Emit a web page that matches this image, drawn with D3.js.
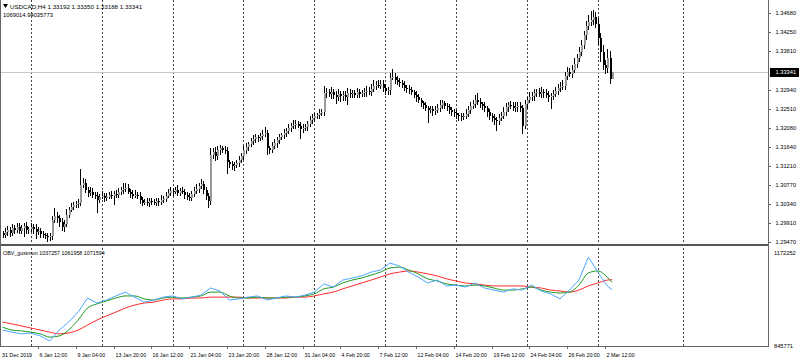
<!DOCTYPE html>
<html>
<head>
<meta charset="utf-8">
<script src="https://cdn.jsdelivr.net/npm/d3@7"></script>
<style>
  body { margin: 0; background: #fff; }
  svg { display: block; font-family: "Liberation Sans", Arial, sans-serif; }
</style>
</head>
<body>
<svg id="chart" width="800" height="363"></svg>
<script>
// USDCAD H4 closes
var closes = [
  1.2964,1.2971,1.2975,1.2968, 1.2980,1.2975,1.2982,1.2973, 1.2980,1.2984,1.2975,1.2977, 1.2982,1.2977,1.2971,1.2973, 1.2966,1.2964,1.2962,1.2959,
  1.2962,1.2998,1.3007,1.3003, 1.2993,1.2982,1.2989,1.3010, 1.3021,1.3028,1.3032,1.3035, 1.3037,1.3078,1.3082,1.3066, 1.3060,1.3062,1.3055,1.3053,
  1.3044,1.3051,1.3053,1.3048, 1.3051,1.3055,1.3053,1.3057, 1.3055,1.3062,1.3066,1.3069, 1.3071,1.3062,1.3057,1.3053, 1.3055,1.3053,1.3044,1.3037,
  1.3039,1.3037,1.3041,1.3039, 1.3037,1.3041,1.3039,1.3044, 1.3046,1.3053,1.3060,1.3064, 1.3062,1.3066,1.3060,1.3064, 1.3062,1.3055,1.3051,1.3048,
  1.3057,1.3064,1.3069,1.3075, 1.3080,1.3066,1.3053,1.3041, 1.3145,1.3152,1.3143,1.3157, 1.3161,1.3157,1.3154,1.3129, 1.3125,1.3120,1.3123,1.3127,
  1.3134,1.3143,1.3157,1.3163, 1.3170,1.3177,1.3181,1.3186, 1.3184,1.3188,1.3193,1.3195, 1.3161,1.3157,1.3166,1.3172, 1.3179,1.3186,1.3190,1.3195,
  1.3200,1.3207,1.3212,1.3214, 1.3216,1.3212,1.3205,1.3207, 1.3209,1.3216,1.3225,1.3230, 1.3234,1.3236,1.3241,1.3243, 1.3286,1.3288,1.3284,1.3288,
  1.3282,1.3277,1.3284,1.3279, 1.3282,1.3277,1.3286,1.3284, 1.3286,1.3282,1.3288,1.3284, 1.3286,1.3288,1.3291,1.3288, 1.3296,1.3303,1.3305,1.3303,
  1.3307,1.3298,1.3291,1.3293, 1.3321,1.3323,1.3316,1.3312, 1.3310,1.3305,1.3298,1.3296, 1.3293,1.3288,1.3282,1.3277, 1.3270,1.3263,1.3259,1.3252,
  1.3248,1.3250,1.3245,1.3248, 1.3252,1.3259,1.3263,1.3257, 1.3254,1.3248,1.3243,1.3241, 1.3236,1.3234,1.3232,1.3234, 1.3239,1.3248,1.3257,1.3261,
  1.3270,1.3266,1.3261,1.3257, 1.3252,1.3243,1.3234,1.3230, 1.3225,1.3223,1.3230,1.3234, 1.3243,1.3254,1.3259,1.3257, 1.3252,1.3254,1.3257,1.3252,
  1.3212,1.3261,1.3270,1.3277, 1.3279,1.3286,1.3288,1.3284, 1.3288,1.3286,1.3282,1.3277, 1.3279,1.3284,1.3291,1.3298, 1.3301,1.3303,1.3325,1.3334,
  1.3330,1.3339,1.3353,1.3366, 1.3380,1.3395,1.3418,1.3438, 1.3447,1.3452,1.3459,1.3443, 1.3411,1.3380,1.3350,1.3343, 1.3366,1.3319,1.33341
];
var firstOpen = 1.2968;

// wick lengths beyond the body, in units of 2 pips
var wickUp = [
  3,4,5,3,4,3,5,4,3,4, 5,3,4,3,6,4,3,3,2,3, 3,5,9,4,3,5,4,6,3,4, 3,3,4,18,6,4,3,5,4,3,
  4,3,5,3,4,3,4,3,5,4, 3,6,5,4,3,4,5,3,4,3, 3,4,3,4,3,4,3,5,3,4, 4,5,3,4,6,3,4,3,3,4,
  3,4,5,4,6,3,3,3,8,5, 6,5,4,3,4,5,3,4,3,4, 5,4,4,5,3,4,5,4,3,4, 5,7,4,3,4,5,4,4,3,5,
  4,4,3,5,4,3,4,5,4,3, 5,4,4,3,4,3,8,5,4,6, 4,5,6,4,5,4,6,5,4,4, 5,4,4,5,6,4,5,6,4,5,
  5,4,5,4,6,9,5,4,4,3, 4,3,4,4,3,4,4,3,3,4, 3,4,3,4,5,6,4,3,3,4, 3,4,3,3,4,3,5,5,4,5,
  6,8,4,3,4,3,4,3,4,3, 4,5,6,5,4,5,4,6,5,4, 4,5,4,6,5,5,4,5,6,4, 5,4,4,5,5,4,5,6,5,6,
  5,6,6,5,6,6,5,6,8,10, 8,6,7,6,8,6,10,8,1
];
var wickDn = [
  4,3,5,4,3,5,3,4,4,10, 4,5,3,6,8,4,5,3,4,5, 4,5,4,6,5,4,6,3,4,3, 4,3,5,4,4,3,5,4,3,4,
  15,4,3,5,4,3,4,10,4,3, 4,5,4,3,5,4,3,4,5,4, 3,4,5,4,3,4,5,3,4,4, 3,4,5,3,4,4,3,5,4,3,
  4,3,4,5,3,4,5,8,5,4, 5,4,6,4,3,13,5,4,5,4, 4,3,4,5,4,3,4,4,5,3, 4,3,8,5,4,3,5,4,3,4,
  4,3,5,4,5,3,12,5,4,4, 3,4,5,3,4,3,4,5,3,6, 5,8,4,6,5,4,9,4,5,4, 4,5,3,4,5,3,4,4,5,3,
  4,5,4,4,5,3,4,4,5,4, 4,5,4,3,4,5,3,4,4,3, 15,4,5,4,3,4,5,4,4,5, 4,5,4,6,5,4,3,4,5,3,
  4,3,4,5,4,5,4,5,6,12, 5,4,3,4,5,4,3,4,5,4, 9,4,5,3,4,5,4,3,4,5, 4,5,14,4,3,4,5,4,5,4,
  4,5,4,5,4,5,4,5,4,4, 5,4,8,12,6,7,5,6,0
];
var lastBar = { o: 1.33192, h: 1.33350, l: 1.33188, c: 1.33341 };

var priceTicks = [1.34680, 1.34250, 1.33810, 1.32940, 1.32510, 1.32080, 1.31640, 1.31210, 1.30770, 1.30340, 1.29910, 1.29470];
var timeLabels = [
  [0, "31 Dec 2019"], [15, "6 Jan 12:00"], [31, "9 Jan 04:00"], [47, "13 Jan 20:00"], [63, "16 Jan 12:00"],
  [79, "21 Jan 04:00"], [95, "23 Jan 20:00"], [111, "28 Jan 12:00"], [127, "31 Jan 04:00"], [143, "4 Feb 20:00"],
  [159, "7 Feb 12:00"], [175, "12 Feb 04:00"], [191, "14 Feb 20:00"], [207, "19 Feb 12:00"], [223, "24 Feb 04:00"],
  [239, "26 Feb 20:00"], [255, "2 Mar 12:00"]
];
var gridBars = [12, 42, 72, 102, 132, 162, 192, 222, 252, 288];

// OBV_gustmon, sampled every 4th bar
var obvBars = d3.range(0, 257, 4).concat([258]);
var obvLine = [900000,893000,887000,890000,880000,863000,900000,927000,961000,1009000,992000,1002000,1016000,1029000,1012000,995000,
  1002000,1012000,1016000,1006000,1012000,1019000,1043000,1033000,1002000,1006000,1012000,1016000,1002000,1009000,1016000,1012000,
  1019000,1029000,1057000,1046000,1070000,1077000,1084000,1097000,1104000,1128000,1118000,1097000,1080000,1060000,1070000,1050000,
  1053000,1046000,1060000,1043000,1036000,1029000,1040000,1036000,1053000,1033000,1023000,1006000,1036000,1070000,1148000,1097000,1050000,1037257];
var obvFast = [910000,900000,897000,893000,887000,876000,880000,900000,934000,975000,989000,999000,1009000,1016000,1016000,1006000,
  1002000,1009000,1012000,1009000,1012000,1016000,1029000,1029000,1016000,1009000,1009000,1012000,1009000,1009000,1012000,1012000,
  1016000,1023000,1040000,1046000,1060000,1070000,1077000,1087000,1097000,1111000,1114000,1104000,1091000,1074000,1067000,1057000,
  1053000,1050000,1053000,1050000,1043000,1036000,1036000,1040000,1046000,1036000,1029000,1026000,1029000,1053000,1094000,1101000,1080000,1061958];
var obvSlow = [927000,921000,914000,907000,900000,893000,887000,890000,900000,917000,934000,948000,961000,975000,985000,992000,
  995000,1002000,1006000,1006000,1009000,1009000,1012000,1012000,1012000,1012000,1009000,1009000,1009000,1009000,1009000,1012000,
  1012000,1016000,1023000,1029000,1040000,1050000,1060000,1070000,1080000,1091000,1097000,1101000,1097000,1091000,1084000,1074000,
  1067000,1060000,1057000,1053000,1050000,1050000,1050000,1050000,1046000,1043000,1036000,1033000,1029000,1036000,1050000,1060000,1070000,1071594];
var obvMin = 845771, obvMax = 1172252;

var svg = d3.select("#chart");
var W = 768, mainBot = 244, subTop = 250, subBot = 346;

var x = d3.scaleLinear().domain([0, 255]).range([2.5, 604.9]);
var y = d3.scaleLinear().domain([1.29470, 1.34680]).range([242.4, 13.1]);
var yObv = d3.scaleLinear().domain([obvMin, obvMax]).range([subBot, subTop]);

var bars = closes.map(function(c, i) {
  var o = i == 0 ? firstOpen : closes[i - 1];
  if (i == closes.length - 1)
    return { i: i, o: lastBar.o, h: lastBar.h, l: lastBar.l, c: lastBar.c };
  return { i: i, o: o, c: c,
    h: Math.max(o, c) + wickUp[i] * 0.0002,
    l: Math.min(o, c) - wickDn[i] * 0.0002 };
});

// grid (dotted verticals through both panels)
svg.append("g").selectAll("line").data(gridBars).enter().append("line")
  .attr("x1", function(d) { return Math.round(x(d)) + 0.5; })
  .attr("x2", function(d) { return Math.round(x(d)) + 0.5; })
  .attr("y1", 0).attr("y2", subBot)
  .attr("stroke", "#444").attr("stroke-dasharray", "2,2").attr("shape-rendering", "crispEdges");

// current price line
svg.append("line")
  .attr("x1", 0).attr("x2", W)
  .attr("y1", Math.round(y(lastBar.c)) + 0.5).attr("y2", Math.round(y(lastBar.c)) + 0.5)
  .attr("stroke", "#c8c8c8").attr("shape-rendering", "crispEdges");

// candles
var cg = svg.append("g").attr("shape-rendering", "crispEdges");
cg.selectAll(".wick").data(bars).enter().append("line")
  .attr("class", "wick")
  .attr("x1", function(d) { return Math.round(x(d.i)) + 0.5; })
  .attr("x2", function(d) { return Math.round(x(d.i)) + 0.5; })
  .attr("y1", function(d) { return y(d.h); })
  .attr("y2", function(d) { return y(d.l); })
  .attr("stroke", "#000");
cg.selectAll(".body").data(bars).enter().append("rect")
  .attr("class", "body")
  .attr("x", function(d) { return Math.round(x(d.i)) - 0.5; })
  .attr("width", 2)
  .attr("y", function(d) { return y(Math.max(d.o, d.c)); })
  .attr("height", function(d) { return Math.max(1, Math.abs(y(d.o) - y(d.c))); })
  .attr("fill", function(d) { return d.c >= d.o ? "#9a9a9a" : "#000"; });

// frame
svg.append("rect").attr("x", 0).attr("y", mainBot).attr("width", W).attr("height", 2).attr("fill", "#555");
svg.append("line").attr("x1", W + 0.5).attr("x2", W + 0.5).attr("y1", 0).attr("y2", subBot + 1)
  .attr("stroke", "#666").attr("shape-rendering", "crispEdges");
svg.append("line").attr("x1", 0).attr("x2", W + 1).attr("y1", subBot + 0.5).attr("y2", subBot + 0.5)
  .attr("stroke", "#666").attr("shape-rendering", "crispEdges");
svg.append("line").attr("x1", 0.5).attr("x2", 0.5).attr("y1", 0).attr("y2", subBot)
  .attr("stroke", "#666").attr("shape-rendering", "crispEdges");

// price axis
var pa = svg.append("g").attr("font-size", "5.7px").attr("fill", "#000");
priceTicks.forEach(function(t) {
  var yy = Math.round(y(t)) + 0.5;
  pa.append("line").attr("x1", W).attr("x2", W + 3).attr("y1", yy).attr("y2", yy)
    .attr("stroke", "#666").attr("shape-rendering", "crispEdges");
  pa.append("text").attr("x", 775.5).attr("y", yy).attr("dy", "0.35em").text(t.toFixed(5));
});
var cy = Math.round(y(lastBar.c));
svg.append("rect").attr("x", W + 2).attr("y", cy - 4).attr("width", 29).attr("height", 9).attr("fill", "#000");
svg.append("text").attr("x", 775.5).attr("y", cy + 0.5).attr("dy", "0.35em")
  .attr("font-size", "5.7px").attr("fill", "#fff").text(lastBar.c.toFixed(5));

// indicator scale labels
svg.append("text").attr("x", 774).attr("y", 253).attr("dy", "0.35em").attr("font-size", "5.7px").text(obvMax);
svg.append("text").attr("x", 774).attr("y", 346.5).attr("dy", "0.35em").attr("font-size", "5.7px").text(obvMin);

// time axis
var ta = svg.append("g").attr("font-size", "5.3px").attr("fill", "#000");
timeLabels.forEach(function(t) {
  var xx = Math.round(x(t[0])) + 0.5;
  if (t[0] > 0)
    ta.append("line").attr("x1", xx).attr("x2", xx).attr("y1", subBot).attr("y2", subBot + 3)
      .attr("stroke", "#666").attr("shape-rendering", "crispEdges");
  ta.append("text").attr("x", t[0] == 0 ? 2 : xx + 1).attr("y", 355.5).attr("dy", "0.35em").text(t[1]);
});

// OBV lines
function obvPath(vals, curve) {
  return d3.line()
    .x(function(d, i) { return x(obvBars[i]); })
    .y(function(d) { return yObv(d); })
    .curve(curve)(vals);
}
svg.append("path").attr("d", obvPath(obvSlow, d3.curveMonotoneX)).attr("fill", "none").attr("stroke", "#ff2a2a").attr("stroke-width", 1);
svg.append("path").attr("d", obvPath(obvFast, d3.curveMonotoneX)).attr("fill", "none").attr("stroke", "#1f9a1f").attr("stroke-width", 1);
svg.append("path").attr("d", obvPath(obvLine, d3.curveLinear)).attr("fill", "none").attr("stroke", "#4da6ff").attr("stroke-width", 1);

// captions
svg.append("path").attr("d", "M3,4 L8,4 L5.5,8 Z").attr("fill", "#000");
svg.append("text").attr("x", 10).attr("y", 6.5).attr("dy", "0.35em").attr("font-size", "6.2px")
  .text("USDCAD,H4  1.33192 1.33350 1.33188 1.33341");
svg.append("text").attr("x", 3).attr("y", 14.5).attr("dy", "0.35em").attr("font-size", "5.8px")
  .text("1069014.94035773");
svg.append("text").attr("x", 3).attr("y", 253.5).attr("dy", "0.35em").attr("font-size", "5.35px")
  .text("OBV_gustmon 1037257 1061958 1071594");
</script>
</body>
</html>
